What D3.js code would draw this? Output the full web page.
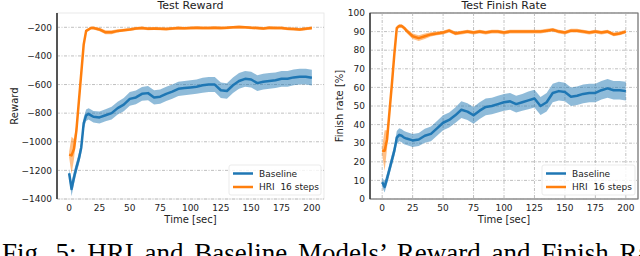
<!DOCTYPE html>
<html lang="en">
<head>
<meta charset="UTF-8">
<title>Test Reward / Test Finish Rate</title>
<script src="https://d3js.org/d3.v7.min.js"></script>
<style>
  body { margin: 0; background: #fff; }
  svg { display: block; font-family: "DejaVu Sans", sans-serif; }
  .tick-label { font-size: 9px; fill: #222; }
  .axis-label { font-size: 10px; fill: #222; }
  .title { font-size: 11px; fill: #222; }
  .legend-text { font-size: 9px; fill: #222; }
  .caption { font-family: "Liberation Serif", "DejaVu Serif", serif; font-size: 27px; fill: #000; word-spacing: 4px; }
</style>
</head>
<body>
<svg id="chart" width="640" height="256"></svg>
<script>
// ---- data ----
const time = [0, 2, 4, 6, 8, 10, 12, 14, 16, 18, 20, 25, 30, 35, 40, 45, 50, 55, 60, 65, 70, 75, 80, 85, 90, 95, 100,
  105, 110, 115, 120, 125, 130, 135, 140, 145, 150, 155, 160, 165, 170, 175, 180, 185, 190, 195, 200];

const rewardBaseline = [-1220, -1330, -1250, -1180, -1120, -1040, -870, -815, -805, -815, -825, -830, -815, -800, -765, -740, -700,
  -690, -665, -660, -690, -685, -665, -650, -630, -625, -620, -615, -605, -600, -600, -640, -645, -605, -575, -560, -565,
  -590, -580, -575, -570, -560, -560, -550, -545, -545, -552];
const rewardBaselineErr = [30, 50, 45, 40, 40, 40, 40, 40, 40, 40, 40, 42, 42, 44, 45, 46, 48, 48, 48, 50, 50, 50, 50, 50, 50,
  50, 50, 50, 52, 52, 52, 54, 54, 54, 55, 55, 55, 55, 55, 55, 55, 55, 55, 55, 55, 55, 55];
const rewardHri = [-1090, -1095, -1050, -920, -720, -520, -320, -225, -215, -205, -205, -215, -235, -235, -225, -220, -215,
  -208, -205, -210, -208, -210, -212, -208, -205, -207, -205, -203, -205, -205, -203, -205, -203, -200, -198, -200, -203,
  -205, -208, -203, -205, -205, -210, -212, -215, -210, -205];
const rewardHriErr = [20, 130, 70, 40, 30, 25, 20, 12, 10, 10, 10, 12, 14, 14, 12, 10, 10, 10, 10, 10, 10, 10, 10, 10, 10, 10,
  10, 10, 10, 10, 10, 10, 10, 10, 10, 10, 10, 10, 10, 10, 10, 10, 10, 10, 10, 10, 10];

const finishBaseline = [9, 6.5, 11, 16, 21, 26, 33, 34.5, 34, 33, 32.5, 31.5, 32, 34, 35, 38, 41, 42.5, 45, 48, 47, 45, 47.5,
  49.5, 50, 51, 52, 52.5, 51, 52, 53, 54, 50, 52, 57, 58, 57.5, 55, 55.5, 56.5, 57, 57, 58.5, 59.5, 58.5, 58.5, 58];
const finishBaselineErr = [2.5, 3, 3, 3, 3, 3, 3.5, 3.5, 3.5, 3.5, 3.5, 3.5, 3.5, 3.8, 4, 4, 4, 4, 4.2, 4.5, 4.5, 4.5, 4.5,
  4.5, 4.5, 4.5, 4.5, 4.5, 4.5, 4.5, 4.8, 4.8, 4.8, 5, 5, 5, 5, 5, 5, 5, 5, 5, 5, 5, 5, 5, 5];
const finishHri = [26, 26, 32, 47, 62, 78, 92, 93, 93, 92, 90.5, 87.5, 86.5, 87.5, 88.5, 89, 89.5, 90.5, 89, 89.5, 90, 89.5,
  90, 89.5, 90, 90, 89.5, 90, 90, 90, 90, 90, 90, 90.5, 91, 90, 89.5, 90.5, 90.5, 90, 89.5, 90, 89.5, 90, 88.5, 89, 90];
const finishHriErr = [2, 11, 5, 2, 1.5, 1.2, 1, 1, 1, 1, 1.2, 1.5, 1.5, 1.5, 1.2, 1, 1, 1, 1, 1, 1, 1, 1, 1, 1, 1, 1, 1, 1,
  1, 1, 1, 1, 1, 1, 1, 1, 1, 1, 1, 1, 1, 1, 1, 1, 1, 1];

const xTicks = [0, 25, 50, 75, 100, 125, 150, 175, 200];
const rewardTicks = [-1400, -1200, -1000, -800, -600, -400, -200];
const finishTicks = [0, 10, 20, 30, 40, 50, 60, 70, 80, 90, 100];
const seriesNames = ["Baseline", "HRI  16 steps"];

// ---- layout ----
const BLUE = "#1f77b4", ORANGE = "#ff7f0e";
const svg = d3.select("#chart");
const fmt = d => d < 0 ? "\u2212" + Math.abs(d) : String(d);

function panel(opt) {
  const x = d3.scaleLinear().domain([-10, 210]).range([opt.left, opt.right]);
  const y = d3.scaleLinear().domain(opt.yDomain).range([199, 13]);
  const g = svg.append("g");

  g.append("clipPath").attr("id", opt.id + "-clip")
    .append("rect").attr("x", opt.left).attr("y", 13)
    .attr("width", opt.right - opt.left).attr("height", 186);

  // frame
  g.append("rect").attr("x", opt.left).attr("y", 13)
    .attr("width", opt.right - opt.left).attr("height", 186)
    .attr("fill", "none").attr("stroke", opt.frame).attr("stroke-width", 0.8);

  // grid
  const dash = "3,1.5,1,1.5";
  g.selectAll(".hgrid").data(opt.yTicks).enter().append("line")
    .attr("x1", opt.left).attr("x2", opt.right)
    .attr("y1", d => y(d)).attr("y2", d => y(d))
    .attr("stroke", "#b0b0b0").attr("stroke-width", 0.8).attr("stroke-dasharray", dash);
  if (opt.vgrid) {
    g.selectAll(".vgrid").data(xTicks).enter().append("line")
      .attr("x1", d => x(d)).attr("x2", d => x(d))
      .attr("y1", 13).attr("y2", 199)
      .attr("stroke", "#b0b0b0").attr("stroke-width", 0.8).attr("stroke-dasharray", dash);
  }

  // series
  const plot = g.append("g").attr("clip-path", `url(#${opt.id}-clip)`);
  opt.series.forEach(s => {
    const pts = time.map((t, i) => ({ t, v: s.mean[i], e: s.err[i] }));
    plot.append("path").datum(pts)
      .attr("fill", s.color).attr("fill-opacity", 0.5)
      .attr("d", d3.area().x(d => x(d.t)).y0(d => y(d.v - d.e)).y1(d => y(d.v + d.e)));
    plot.append("path").datum(pts)
      .attr("fill", "none").attr("stroke", s.color).attr("stroke-width", 2.5)
      .attr("stroke-linejoin", "round")
      .attr("d", d3.line().x(d => x(d.t)).y(d => y(d.v)));
  });

  // spine
  g.append("line").attr("x1", opt.left).attr("x2", opt.left).attr("y1", 13).attr("y2", 199)
    .attr("stroke", opt.spine).attr("stroke-width", opt.spineWidth);

  // tick labels
  g.selectAll(".xt").data(xTicks).enter().append("text")
    .attr("class", "tick-label").attr("x", d => x(d)).attr("y", 211)
    .attr("text-anchor", "middle").text(fmt);
  g.selectAll(".yt").data(opt.yTicks).enter().append("text")
    .attr("class", "tick-label").attr("x", opt.left - 5).attr("y", d => y(d) + 3.2)
    .attr("text-anchor", "end").text(fmt);

  // labels
  g.append("text").attr("class", "axis-label")
    .attr("x", (opt.left + opt.right) / 2).attr("y", 223)
    .attr("text-anchor", "middle").text("Time [sec]");
  g.append("text").attr("class", "axis-label")
    .attr("transform", `translate(${opt.yLabelX},106) rotate(-90)`)
    .attr("text-anchor", "middle").text(opt.yLabel);
  g.append("text").attr("class", "title")
    .attr("x", (opt.left + opt.right) / 2).attr("y", 9)
    .attr("text-anchor", "middle").text(opt.title);

  // legend
  const lg = g.append("g");
  lg.append("rect").attr("x", opt.legendX).attr("y", 165)
    .attr("width", opt.right - 3 - opt.legendX).attr("height", 30).attr("rx", 2)
    .attr("fill", "#fff").attr("fill-opacity", 0.8).attr("stroke", "#e6e6e6").attr("stroke-width", 0.8);
  opt.series.forEach((s, i) => {
    const ly = 173.5 + i * 13.5;
    lg.append("line").attr("x1", opt.legendX + 4).attr("x2", opt.legendX + 24)
      .attr("y1", ly).attr("y2", ly).attr("stroke", s.color).attr("stroke-width", 2.5);
    lg.append("text").attr("class", "legend-text")
      .attr("x", opt.legendX + 30).attr("y", ly + 3.2).attr("xml:space", "preserve")
      .text(seriesNames[i]);
  });
}

panel({
  id: "reward", left: 57, right: 324, yDomain: [-1400, -100], yTicks: rewardTicks,
  title: "Test Reward", yLabel: "Reward", yLabelX: 18, vgrid: false,
  frame: "#e4e4e4", spine: "#555", spineWidth: 2, legendX: 229,
  series: [
    { mean: rewardBaseline, err: rewardBaselineErr, color: BLUE },
    { mean: rewardHri, err: rewardHriErr, color: ORANGE }
  ]
});

panel({
  id: "finish", left: 370, right: 638, yDomain: [0, 100], yTicks: finishTicks,
  title: "Test Finish Rate", yLabel: "Finish rate [%]", yLabelX: 343, vgrid: true,
  frame: "#222", spine: "#111", spineWidth: 1, legendX: 542,
  series: [
    { mean: finishBaseline, err: finishBaselineErr, color: BLUE },
    { mean: finishHri, err: finishHriErr, color: ORANGE }
  ]
});

// caption of the source figure, cut by the bottom edge as in the reference
svg.append("text").attr("class", "caption").attr("x", 2).attr("y", 262)
  .text("Fig. 5: HRI and Baseline Models\u2019 Reward and Finish Rate");
</script>
</body>
</html>
